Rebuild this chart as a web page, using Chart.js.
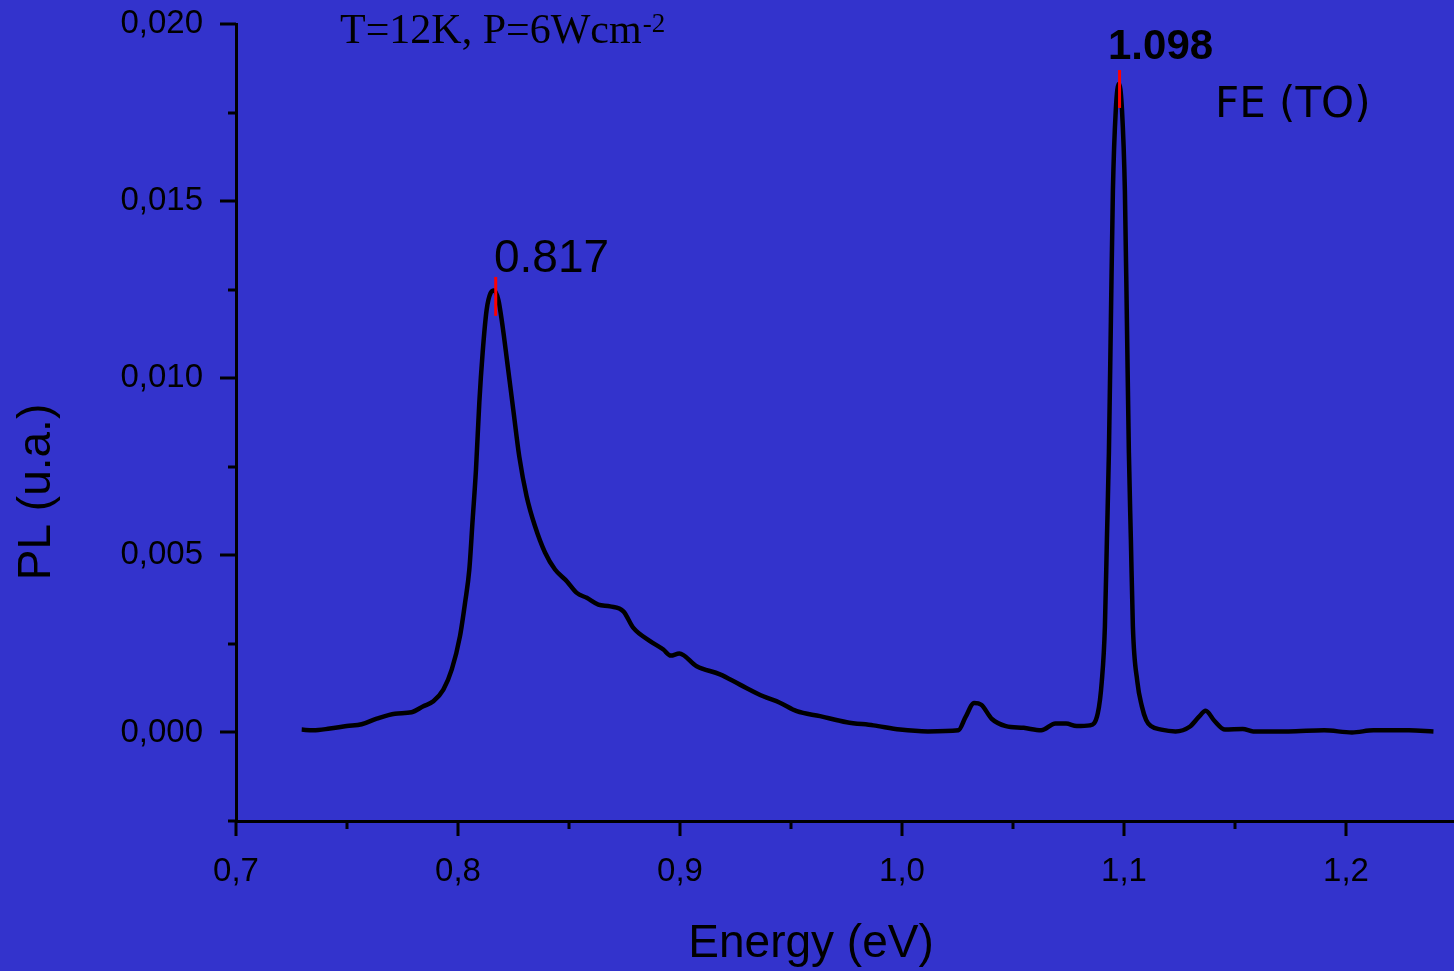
<!DOCTYPE html>
<html>
<head>
<meta charset="utf-8">
<script src="https://cdn.jsdelivr.net/npm/chart.js@4/dist/chart.umd.min.js"></script>
<style>
  html, body { margin: 0; padding: 0; background: #3333cc; }
  canvas { display: block; }
</style>
</head>
<body>
<canvas id="c" width="1454" height="971"></canvas>
<script>
// ---- data ----
const energy = [
  0.7296, 0.7348, 0.7423, 0.7499, 0.7566, 0.7634, 0.7716, 0.7791, 0.7844, 0.7889,
  0.7934, 0.7972, 0.8009, 0.8032, 0.8051, 0.8066, 0.8081, 0.8096, 0.8111, 0.8129,
  0.8147, 0.8162, 0.8182, 0.8201, 0.8222, 0.8249, 0.8276, 0.8309, 0.8347, 0.8392,
  0.8437, 0.8490, 0.8535, 0.8580, 0.8632, 0.8685, 0.8745, 0.8790, 0.8865, 0.8925,
  0.8958, 0.8997, 0.9075, 0.9180, 0.9270, 0.9375, 0.9450, 0.9526, 0.9631, 0.9751,
  0.9871, 0.9991, 1.0117, 1.0254, 1.0286, 1.0325, 1.0357, 1.0405, 1.0468, 1.0548,
  1.0627, 1.0691, 1.0739, 1.0787, 1.0846, 1.0882, 1.0900, 1.0914, 1.0923, 1.0932,
  1.0941, 1.0950, 1.0963, 1.0977, 1.0991, 1.1004, 1.1013, 1.1022, 1.1031, 1.1040,
  1.1060, 1.1080, 1.1100, 1.1121, 1.1168, 1.1232, 1.1296, 1.1336, 1.1368, 1.1407,
  1.1455, 1.1535, 1.1582, 1.1741, 1.1901, 1.2027, 1.2124, 1.2283, 1.2394
];
const pl = [
  0.00008, 0.00006, 0.00011, 0.00018, 0.00023, 0.00039, 0.00053, 0.00057, 0.00074, 0.00088,
  0.00121, 0.00178, 0.00272, 0.00367, 0.00460, 0.00601, 0.00742, 0.00931, 0.01072, 0.01193,
  0.01241, 0.01248, 0.01221, 0.01146, 0.01044, 0.00911, 0.00779, 0.00667, 0.00582, 0.00508,
  0.00460, 0.00427, 0.00394, 0.00380, 0.00361, 0.00356, 0.00342, 0.00295, 0.00258, 0.00234,
  0.00217, 0.00223, 0.00187, 0.00164, 0.00135, 0.00102, 0.00084, 0.00060, 0.00046, 0.00029,
  0.00020, 0.00008, 0.00003, 0.00006, 0.00043, 0.00083, 0.00078, 0.00038, 0.00018, 0.00013,
  0.00006, 0.00025, 0.00025, 0.00018, 0.00020, 0.00054, 0.00144, 0.00299, 0.00544, 0.00790,
  0.01165, 0.01529, 0.01757, 0.01831, 0.01757, 0.01529, 0.01165, 0.00790, 0.00544, 0.00299,
  0.00144, 0.00075, 0.00035, 0.00018, 0.00008, 0.00003, 0.00016, 0.00043, 0.00061, 0.00033,
  0.00008, 0.00010, 0.00003, 0.00003, 0.00006, 0.00000, 0.00006, 0.00006, 0.00003
];
// peak markers (red bars) and their labels
const peakEnergy = [0.817, 1.098];
const peakLow    = [0.01176, 0.01763];
const peakHigh   = [0.01286, 0.01870];
const peakLabels = ['0.817', '1.098'];
// axes
const xMin = 0.7, xMax = 1.24865, xStep = 0.05;
const yMin = -0.0025, yMax = 0.020, yStep = 0.0025;
const xTitle = 'Energy (eV)';
const yTitle = 'PL (u.a.)';
const noteMain = 'T=12K, P=6Wcm';
const noteSup = '-2';
const bandLabel = 'FE (TO)';

const SANS = '"Liberation Sans", Arial, sans-serif';
const SERIF = '"Liberation Serif", "Times New Roman", serif';

const curve = energy.map((e, i) => ({x: e, y: pl[i]}));
const markerSets = peakEnergy.map((e, i) => ({
  data: [{x: e, y: peakLow[i]}, {x: e, y: peakHigh[i]}],
  borderColor: '#ff0000', borderWidth: 3, pointRadius: 0, order: 0, tension: 0
}));

function isMultiple(v, step) {
  const r = v / step;
  return Math.abs(r - Math.round(r)) < 1e-6;
}

const bgPlugin = {
  id: 'bg',
  beforeDraw(chart) {
    const ctx = chart.ctx;
    ctx.save();
    ctx.fillStyle = '#3333cc';
    ctx.fillRect(0, 0, chart.width, chart.height);
    ctx.restore();
  }
};

const decoPlugin = {
  id: 'deco',
  afterDraw(chart) {
    const ctx = chart.ctx;
    const xs = chart.scales.x, ys = chart.scales.y;
    ctx.save();
    ctx.strokeStyle = '#000';
    ctx.lineWidth = 3;
    ctx.lineCap = 'butt';
    // x tick marks
    xs.ticks.forEach(t => {
      const px = Math.round(xs.getPixelForValue(t.value));
      const major = isMultiple(t.value, 0.1);
      const len = major ? 15 : 8;
      ctx.beginPath();
      ctx.moveTo(px, xs.top);
      ctx.lineTo(px, xs.top + len);
      ctx.stroke();
    });
    // y tick marks
    ys.ticks.forEach(t => {
      const py = Math.round(ys.getPixelForValue(t.value));
      const major = isMultiple(t.value, 0.005);
      const len = major ? 16 : 8;
      ctx.beginPath();
      ctx.moveTo(ys.right, py);
      ctx.lineTo(ys.right - len, py);
      ctx.stroke();
    });

    ctx.fillStyle = '#000';
    ctx.textBaseline = 'alphabetic';
    // axis titles
    ctx.font = '46px ' + SANS;
    ctx.textAlign = 'center';
    ctx.fillText(xTitle, 811, 957);
    ctx.save();
    ctx.translate(50, 492);
    ctx.rotate(-Math.PI / 2);
    ctx.fillText(yTitle, 0, 0);
    ctx.restore();

    ctx.textAlign = 'left';
    // condition note
    ctx.font = '42px ' + SERIF;
    ctx.fillText(noteMain, 340, 43);
    const w = ctx.measureText(noteMain).width;
    ctx.font = '27px ' + SERIF;
    ctx.fillText(noteSup, 340 + w + 1, 32);

    // peak labels
    ctx.font = '46px ' + SANS;
    ctx.fillText(peakLabels[0], 494, 272);
    ctx.font = 'bold 42px ' + SANS;
    ctx.fillText(peakLabels[1], 1108, 59);

    // band label
    ctx.font = '42px "Comic Sans MS", "DejaVu Sans", sans-serif';
    ctx.fillText(bandLabel, 1215, 117);
    ctx.restore();
  }
};

new Chart(document.getElementById('c'), {
  type: 'line',
  data: {
    datasets: [
      ...markerSets,
      {
        data: curve,
        borderColor: '#000000',
        borderWidth: 4.5,
        pointRadius: 0,
        cubicInterpolationMode: 'monotone',
        borderJoinStyle: 'round',
        order: 1
      }
    ]
  },
  options: {
    responsive: false,
    animation: false,
    events: [],
    layout: { padding: { top: 24, right: 0, bottom: 0, left: 0 } },
    plugins: { legend: { display: false }, tooltip: { enabled: false }, title: { display: false } },
    scales: {
      x: {
        type: 'linear',
        min: xMin, max: xMax,
        grid: { display: false, drawTicks: false },
        border: { display: true, color: '#000', width: 3 },
        ticks: {
          stepSize: xStep,
          includeBounds: false,
          autoSkip: false,
          maxRotation: 0,
          padding: 31,
          color: '#000',
          font: { family: SANS, size: 33 },
          callback: v => isMultiple(v, 0.1) ? v.toFixed(1).replace('.', ',') : ''
        },
        afterFit: s => { s.height = 150; s.paddingLeft = 0; s.paddingRight = 0; }
      },
      y: {
        type: 'linear',
        min: yMin, max: yMax,
        grid: { display: false, drawTicks: false },
        border: { display: true, color: '#000', width: 3 },
        ticks: {
          stepSize: yStep,
          includeBounds: false,
          autoSkip: false,
          padding: 33,
          color: '#000',
          font: { family: SANS, size: 33 },
          callback: v => isMultiple(v, 0.005) ? v.toFixed(3).replace('.', ',') : ''
        },
        afterFit: s => { s.width = 236; s.paddingTop = 0; s.paddingBottom = 0; }
      }
    }
  },
  plugins: [bgPlugin, decoPlugin]
});
</script>
</body>
</html>
